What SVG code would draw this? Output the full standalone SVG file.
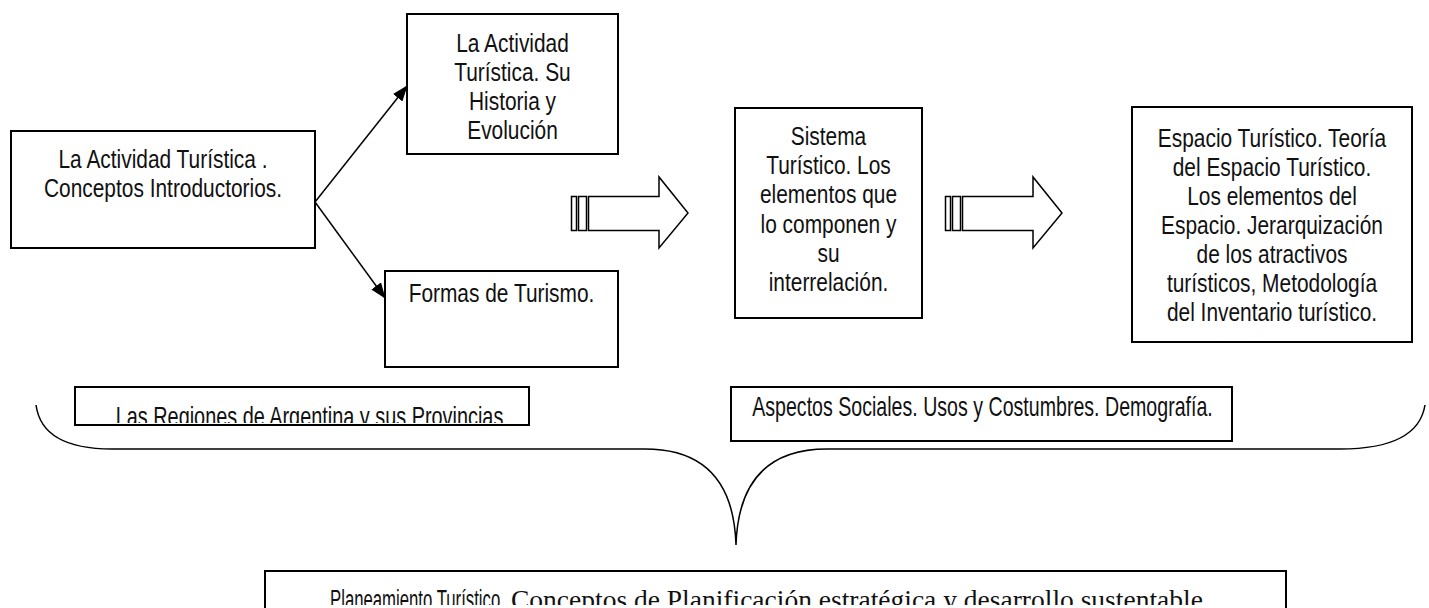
<svg xmlns="http://www.w3.org/2000/svg" width="1429" height="608" viewBox="0 0 1429 608">
<style>
.box{fill:#fff;stroke:#000;stroke-width:2}
.t{font-family:"Liberation Sans",Arial,sans-serif;font-size:25.5px;fill:#111;text-anchor:middle}
.tb{font-family:"Liberation Sans",Arial,sans-serif;font-size:28px;fill:#111;text-anchor:middle}
.ts{font-family:"Liberation Serif","Times New Roman",serif;font-size:27.5px;fill:#111}
.ln{fill:none;stroke:#000;stroke-width:1.5}
.ha{fill:#fff;stroke:#000;stroke-width:1.5}
</style>
<defs>
<marker id="ah" markerWidth="16" markerHeight="12" refX="15" refY="6" orient="auto" markerUnits="userSpaceOnUse">
<path d="M0,0 L16,6 L0,12 Z" fill="#000"/>
</marker>
<clipPath id="c6"><rect x="76" y="388" width="452" height="35"/></clipPath>
<clipPath id="cb"><rect x="266" y="572" width="1019" height="33"/></clipPath>
<g id="harrow">
<rect x="571.5" y="196.5" width="5" height="34" class="ha"/>
<rect x="578.5" y="196.5" width="8" height="34" class="ha"/>
<path d="M588.5,196.5 H659 V177 L688,213 L659,248 V230.5 H588.5 Z" class="ha"/>
</g>
</defs>

<g id="connectors">
<line x1="315" y1="202" x2="407" y2="86" class="ln" marker-end="url(#ah)"/>
<line x1="315" y1="202" x2="385" y2="298" class="ln" marker-end="url(#ah)"/>
<use href="#harrow"/>
<use href="#harrow" transform="translate(374,0)"/>
<path d="M36,405 Q42,449 112,449 L645,449 Q733,449 736,545 Q739,449 827,449 L1340,449 Q1418,449 1425,405" class="ln"/>
</g>

<g id="n1">
<rect x="11" y="131" width="304" height="117" class="box"/>
<text class="t" transform="translate(163,168) scale(0.82,1)"><tspan x="0" y="0">La Actividad Turística .</tspan><tspan x="0" y="29">Conceptos  Introductorios.</tspan></text>
</g>

<g id="n2">
<rect x="407" y="14" width="211" height="140" class="box"/>
<text class="t" transform="translate(512.5,52) scale(0.82,1)"><tspan x="0" y="0">La Actividad</tspan><tspan x="0" y="29">Turística. Su</tspan><tspan x="0" y="58">Historia y</tspan><tspan x="0" y="87">Evolución</tspan></text>
</g>

<g id="n3">
<rect x="385" y="271" width="233" height="96" class="box"/>
<text class="t" transform="translate(501.5,302) scale(0.82,1)">Formas de Turismo.</text>
</g>

<g id="n4">
<rect x="735" y="108" width="187" height="210" class="box"/>
<text class="t" transform="translate(828.5,145) scale(0.82,1)"><tspan x="0" y="0">Sistema</tspan><tspan x="0" y="29.2">Turístico. Los</tspan><tspan x="0" y="58.4">elementos  que</tspan><tspan x="0" y="87.6">lo componen  y</tspan><tspan x="0" y="116.8">su</tspan><tspan x="0" y="146">interrelación.</tspan></text>
</g>

<g id="n5">
<rect x="1132" y="107" width="280" height="235" class="box"/>
<text class="t" transform="translate(1272,147) scale(0.82,1)"><tspan x="0" y="0">Espacio Turístico. Teoría</tspan><tspan x="0" y="29">del Espacio Turístico.</tspan><tspan x="0" y="58">Los elementos del</tspan><tspan x="0" y="87">Espacio. Jerarquización</tspan><tspan x="0" y="116">de los atractivos</tspan><tspan x="0" y="145">turísticos, Metodología</tspan><tspan x="0" y="174">del Inventario turístico.</tspan></text>
</g>

<g id="n6">
<rect x="75" y="387" width="454" height="38" class="box"/>
<g clip-path="url(#c6)">
<text class="tb" transform="translate(309.5,426) scale(0.71,1)">Las Regiones de Argentina  y sus Provincias</text>
</g>
</g>

<g id="n7">
<rect x="731" y="387" width="501" height="54" class="box"/>
<text class="tb" transform="translate(982.5,416) scale(0.70,1)">Aspectos Sociales. Usos y Costumbres. Demografía.</text>
</g>

<g id="n8">
<path d="M265,612 V571 H1286 V612" class="box"/>
<g clip-path="url(#cb)">
<text style="font-family:'Liberation Sans',Arial,sans-serif;font-size:27px;fill:#111" transform="translate(330,609) scale(0.62,1)">Planeamiento Turístico</text>
<text class="ts" x="511" y="609">Conceptos de Planificación estratégica y desarrollo sustentable.</text>
</g>
</g>
</svg>
